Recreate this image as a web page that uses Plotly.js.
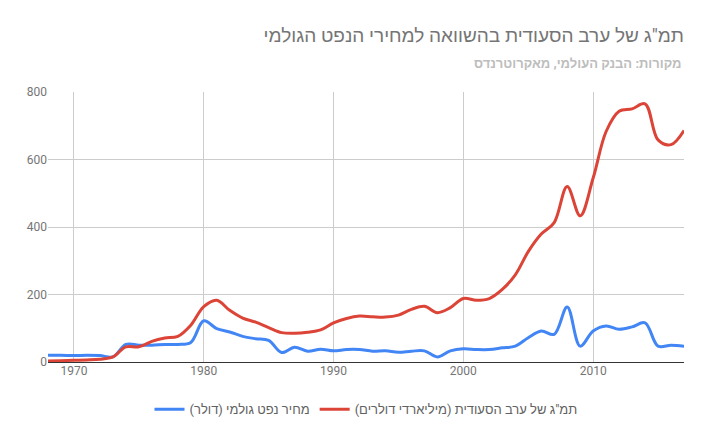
<!DOCTYPE html>
<html>
<head>
<meta charset="utf-8">
<script src="https://cdn.plot.ly/plotly-3.0.1.min.js"></script>
<style>
  html, body { margin: 0; padding: 0; background: #fff; }
  #chart { width: 705px; height: 436px; }
</style>
</head>
<body>
<div id="chart"></div>
<script>
// שנים
var years = [];
for (var y = 1968; y <= 2017; y++) years.push(y);

// מחיר נפט גולמי (דולר)
var oilPrice = [20, 20, 19, 20, 19, 15, 52, 50, 50, 52, 52, 58,
  122, 99, 89, 76, 69, 64, 28, 44, 32, 38,
  33, 37, 37, 32, 33, 29, 32, 33, 15, 33,
  39, 37, 37, 42, 47, 72, 92, 82, 163, 47,
  92, 107, 97, 104, 116, 47, 50, 47];

// תמ"ג ערב הסעודית (מיליארדי דולרים)
var gdp = [3, 4, 5, 6, 8, 15, 45, 45, 61, 71, 76, 109,
  164, 183, 153, 130, 118, 102, 87, 85, 88, 95,
  116, 129, 136, 134, 133, 139, 156, 165, 146, 161,
  188, 183, 188, 215, 258, 327, 379, 413, 520, 433,
  545, 683, 743, 750, 765, 658, 644, 686];

var xTicks = [1970, 1980, 1990, 2000, 2010];
var yTicks = [0, 200, 400, 600, 800];

var trace1 = {
  x: years,
  y: oilPrice,
  type: 'scatter',
  mode: 'lines',
  name: 'מחיר נפט גולמי (דולר)',
  line: { color: '#4285f4', width: 3, shape: 'spline', smoothing: 1 }
};

var trace2 = {
  x: years,
  y: gdp,
  type: 'scatter',
  mode: 'lines',
  name: 'תמ"ג של ערב הסעודית (מיליארדי דולרים)',
  line: { color: '#db4437', width: 3, shape: 'spline', smoothing: 1 }
};

var layout = {
  width: 705,
  height: 436,
  paper_bgcolor: '#fff',
  plot_bgcolor: '#fff',
  font: { family: 'Roboto, Arial, sans-serif', color: '#757575' },
  margin: { l: 48, r: 21, t: 92, b: 74 },
  title: {
    text: 'תמ"ג של ערב הסעודית בהשוואה למחירי הנפט הגולמי',
    font: { size: 19, color: '#757575' },
    x: 1, xanchor: 'right', xref: 'paper',
    y: 0.92, yanchor: 'middle'
  },
  annotations: [{
    text: '<b>מקורות: הבנק העולמי, מאקרוטרנדס</b>',
    showarrow: false,
    xref: 'paper', yref: 'paper',
    x: 1, xanchor: 'right',
    y: 1.105, yanchor: 'middle',
    font: { size: 13, color: '#bdbdbd' }
  }],
  xaxis: {
    range: [1968, 2017],
    tickvals: xTicks,
    ticktext: xTicks.map(String),
    showgrid: true,
    gridcolor: '#cccccc',
    zeroline: false,
    showline: false,
    ticks: '',
    tickfont: { size: 12, color: '#757575' }
  },
  yaxis: {
    range: [0, 800],
    tickvals: yTicks,
    showgrid: true,
    gridcolor: '#cccccc',
    zeroline: true,
    zerolinecolor: '#333333',
    zerolinewidth: 1,
    ticks: '',
    ticksuffix: ' ',
    tickfont: { size: 12, color: '#757575' }
  },
  legend: {
    orientation: 'h',
    x: 0.5, xanchor: 'center',
    y: -0.12, yanchor: 'top',
    font: { size: 13, color: '#616161' }
  },
  showlegend: true
};

Plotly.newPlot('chart', [trace1, trace2], layout, { displayModeBar: false });
</script>
</body>
</html>
